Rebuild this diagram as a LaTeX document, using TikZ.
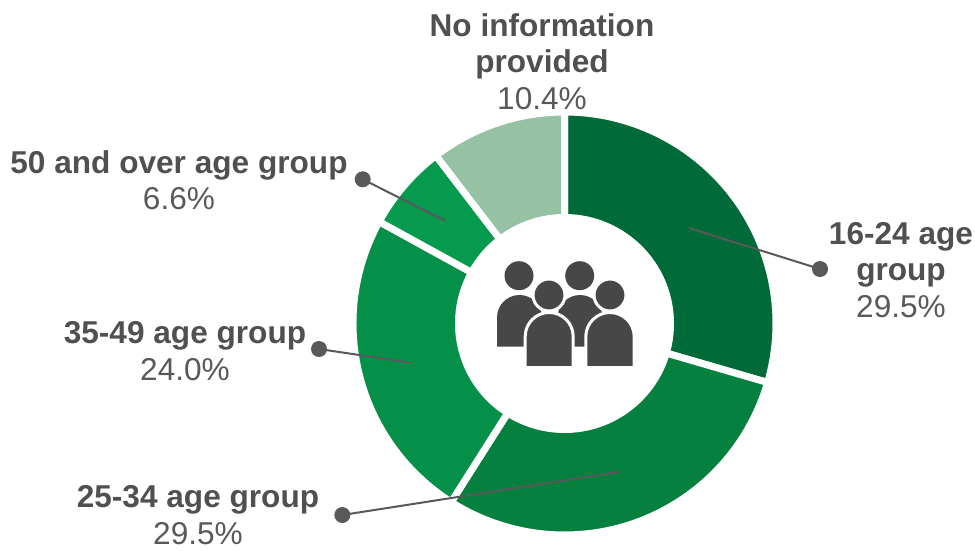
\documentclass[tikz,border=0pt]{standalone}
\usepackage{fontspec}
\setmainfont{Liberation Sans}
\definecolor{txt}{HTML}{595959}
\definecolor{txtb}{HTML}{505050}
\definecolor{icon}{HTML}{474747}
\definecolor{segA}{HTML}{006B38}
\definecolor{segB}{HTML}{05803E}
\definecolor{segC}{HTML}{05904A}
\definecolor{segD}{HTML}{069A4E}
\definecolor{segE}{HTML}{97C1A3}
\newcommand{\lab}[2]{\textbf{\color{txtb}#1}\\#2}
\newcommand{\seg}[3]{% colour, start, end (clockwise from top)
  \fill[#1,draw=white,line width=7pt,line join=miter]
    ({564.5+211.5*sin(#2)},{323.5-211.5*cos(#2)}) arc[start angle={90-#2},end angle={90-#3},radius=211.5pt]
    -- ({564.5+106*sin(#3)},{323.5-106*cos(#3)}) arc[start angle={90-#3},end angle={90-#2},radius=106pt] -- cycle;}
\tikzset{
  label/.style={align=center,text=txt,font=\fontsize{31.6}{36.5}\selectfont,inner sep=0pt},
  dot/.style={circle,fill=txt,minimum size=16pt,inner sep=0pt},
  leader/.style={draw=txt,line width=2pt},
  head/.style={circle,fill=icon,minimum size=29pt,inner sep=0pt},
  fronthead/.style={head,draw=white,line width=3pt,minimum size=32pt},
  body/.style={fill=icon},
  frontbody/.style={fill=icon,draw=white,line width=3pt}
}
\newcommand{\person}[5]{% style, left, right, top, bottom
  \path[#1] (#2,#5) -- (#2,{#4+(#3-#2)/2}) arc[start angle=180,end angle=90,x radius={(#3-#2)/2*1pt},y radius={(#3-#2)/2*1pt}]
    arc[start angle=90,end angle=0,radius={(#3-#2)/2*1pt}] -- (#3,#5) -- cycle;}
\begin{document}
\begin{tikzpicture}[x=1pt,y=-1pt]
\useasboundingbox (0,0) rectangle (975,550);
% ring
\seg{segA}{0}{106.2}
\seg{segB}{106.2}{212.4}
\seg{segC}{212.4}{298.8}
\seg{segD}{298.8}{322.56}
\seg{segE}{322.56}{360}
% icon
\node[head] (h1) at (519,275.7) {};
\node[head] (h2) at (579.7,275.7) {};
\person{body}{497}{542}{295}{346.7}
\person{body}{557.5}{602.5}{295}{346.7}
\person{frontbody}{525.2}{573.2}{312.5}{367.5}
\person{frontbody}{585.8}{634.2}{312.5}{367.5}
\node[fronthead] (h3) at (549,295) {};
\node[fronthead] (h4) at (610,295) {};
% labels
\node[label] (noinfo) at (542,61.5) {\textbf{\color{txtb}No information}\\\textbf{\color{txtb}provided}\\10.4\%};
\node[label] (a1624) at (901,270) {\textbf{\color{txtb}16-24 age}\\\textbf{\color{txtb}group}\\29.5\%};
\node[label] (a50) at (179,180) {\lab{50 and over age group}{6.6\%}};
\node[label] (a3549) at (185,351) {\lab{35-49 age group}{24.0\%}};
\node[label] (a2534) at (198,515) {\lab{25-34 age group}{29.5\%}};
% leaders
\node[dot] (d1) at (820,269) {};
\node[dot] (d2) at (342.3,515) {};
\node[dot] (d3) at (319,349) {};
\node[dot] (d4) at (362.7,179.3) {};
\coordinate (e1) at (689,228);
\coordinate (e2) at (620,471.7);
\coordinate (e3) at (411,362.7);
\coordinate (e4) at (445,220.7);
\draw[leader] (d1.center) -- (e1);
\draw[leader] (d2.center) -- (e2);
\draw[leader] (d3.center) -- (e3);
\draw[leader] (d4.center) -- (e4);
\end{tikzpicture}
\end{document}
